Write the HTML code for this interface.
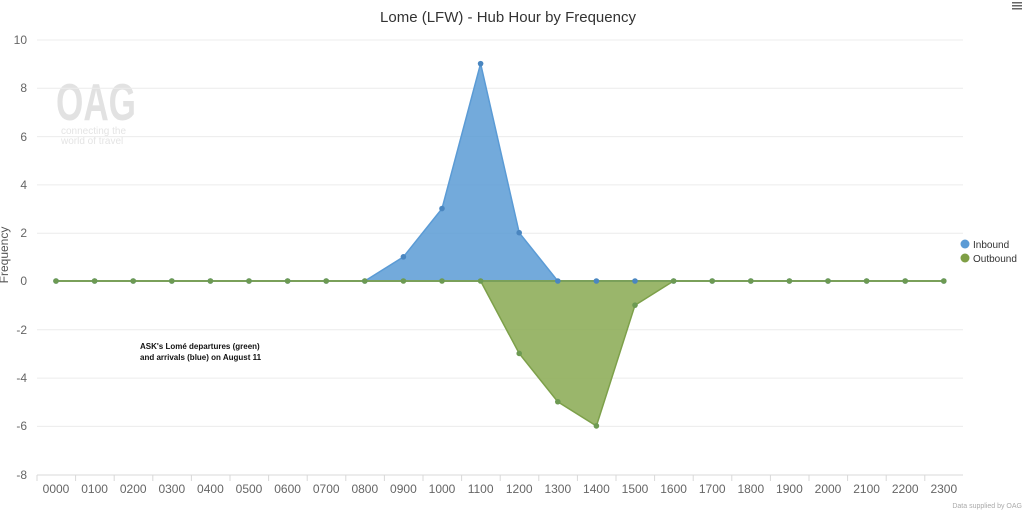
<!DOCTYPE html>
<html><head><meta charset="utf-8"><style>
html,body{margin:0;padding:0;background:#fff;width:1024px;height:510px;overflow:hidden}
svg{display:block;font-family:"Liberation Sans","DejaVu Sans",sans-serif}
</style></head><body>
<svg width="1024" height="510" viewBox="0 0 1024 510" xmlns="http://www.w3.org/2000/svg">
<rect width="1024" height="510" fill="#fff"/>
<text x="508" y="22" text-anchor="middle" font-size="15" fill="#333">Lome (LFW) - Hub Hour by Frequency</text>
<g fill="#666"><rect x="1012" y="2" width="10" height="1.5"/><rect x="1012" y="5" width="10" height="1.5"/><rect x="1012" y="8" width="10" height="1.5"/></g>
<!-- watermark -->
<text x="56" y="120" font-size="52" fill="#e2e2e2" font-weight="bold" textLength="80" lengthAdjust="spacingAndGlyphs">OAG</text>
<text x="61" y="134" font-size="10" fill="#e4e4e4">connecting the</text>
<text x="61" y="144" font-size="10" fill="#e4e4e4">world of travel</text>
<!-- gridlines -->
<g stroke="#ececec" stroke-width="1">
<line x1="37" x2="963" y1="40" y2="40"/><line x1="37" x2="963" y1="88.3" y2="88.3"/><line x1="37" x2="963" y1="136.6" y2="136.6"/><line x1="37" x2="963" y1="184.9" y2="184.9"/><line x1="37" x2="963" y1="233.2" y2="233.2"/><line x1="37" x2="963" y1="329.8" y2="329.8"/><line x1="37" x2="963" y1="378.1" y2="378.1"/><line x1="37" x2="963" y1="426.4" y2="426.4"/>
</g>
<line x1="37" x2="963" y1="475" y2="475" stroke="#d8d8d8"/>
<g fill="#666" font-size="12" text-anchor="end">
<text x="27" y="44">10</text><text x="27" y="92">8</text><text x="27" y="141">6</text><text x="27" y="189">4</text><text x="27" y="237">2</text><text x="27" y="285">0</text><text x="27" y="334">-2</text><text x="27" y="382">-4</text><text x="27" y="430">-6</text><text x="27" y="479">-8</text>
</g>
<text transform="translate(8,255) rotate(-90)" text-anchor="middle" font-size="12" fill="#555">Frequency</text>
<g id="ticks" stroke="#d8d8d8"></g>
<g id="xl" fill="#666" font-size="12" text-anchor="middle"></g>
<!-- areas -->
<polygon points="364.8,281 403.4,256.9 442,208.6 480.6,63.6 519.2,232.7 557.8,281" fill="#5b9bd5" fill-opacity="0.85" stroke="#5b9bd5" stroke-width="1.5"/>
<polygon points="480.6,281 519.2,353.5 557.8,401.8 596.4,426 635,305.2 673.6,281" fill="#8fae5b" fill-opacity="0.9" stroke="#7da04a" stroke-width="1.5"/>
<line x1="56" x2="944" y1="281" y2="281" stroke="#7aa05a" stroke-width="2"/>
<g id="pts"></g>
<text x="140" y="349" font-size="8" font-weight="bold" fill="#111">ASK's Lomé departures (green)</text>
<text x="140" y="360" font-size="8" font-weight="bold" fill="#111">and arrivals (blue) on August 11</text>
<circle cx="965" cy="244" r="4.5" fill="#5b9bd5"/><text x="973" y="248" font-size="10" fill="#333">Inbound</text>
<circle cx="965" cy="258" r="4.5" fill="#7f9f45"/><text x="973" y="262" font-size="10" fill="#333">Outbound</text>
<text x="1022" y="508" text-anchor="end" font-size="7" fill="#aaa">Data supplied by OAG</text>
</svg>
<script>
var ns="http://www.w3.org/2000/svg";
var t=document.getElementById("ticks"),xl=document.getElementById("xl"),p=document.getElementById("pts");
var inb={9:1,10:3,11:9,12:2},outb={12:-3,13:-5,14:-6,15:-1};
for(var i=0;i<24;i++){var cx=56+i*38.6;
var l=document.createElementNS(ns,"line");l.setAttribute("x1",37+i*38.6);l.setAttribute("x2",37+i*38.6);l.setAttribute("y1",475);l.setAttribute("y2",481);t.appendChild(l);
var tx=document.createElementNS(ns,"text");tx.setAttribute("x",cx);tx.setAttribute("y",493);tx.textContent=(i<10?"0":"")+i+"00";xl.appendChild(tx);
var v=inb[i]||0;var c=document.createElementNS(ns,"circle");c.setAttribute("cx",cx);c.setAttribute("cy",281-24.15*v);c.setAttribute("r",2.8);c.setAttribute("fill","#4a86c0");p.appendChild(c);
var w=outb[i]||0;var d=document.createElementNS(ns,"circle");d.setAttribute("cx",cx);d.setAttribute("cy",281-24.15*w);d.setAttribute("r",2.8);d.setAttribute("fill","#6d9a52");p.appendChild(d);}
</script>
</body></html>
